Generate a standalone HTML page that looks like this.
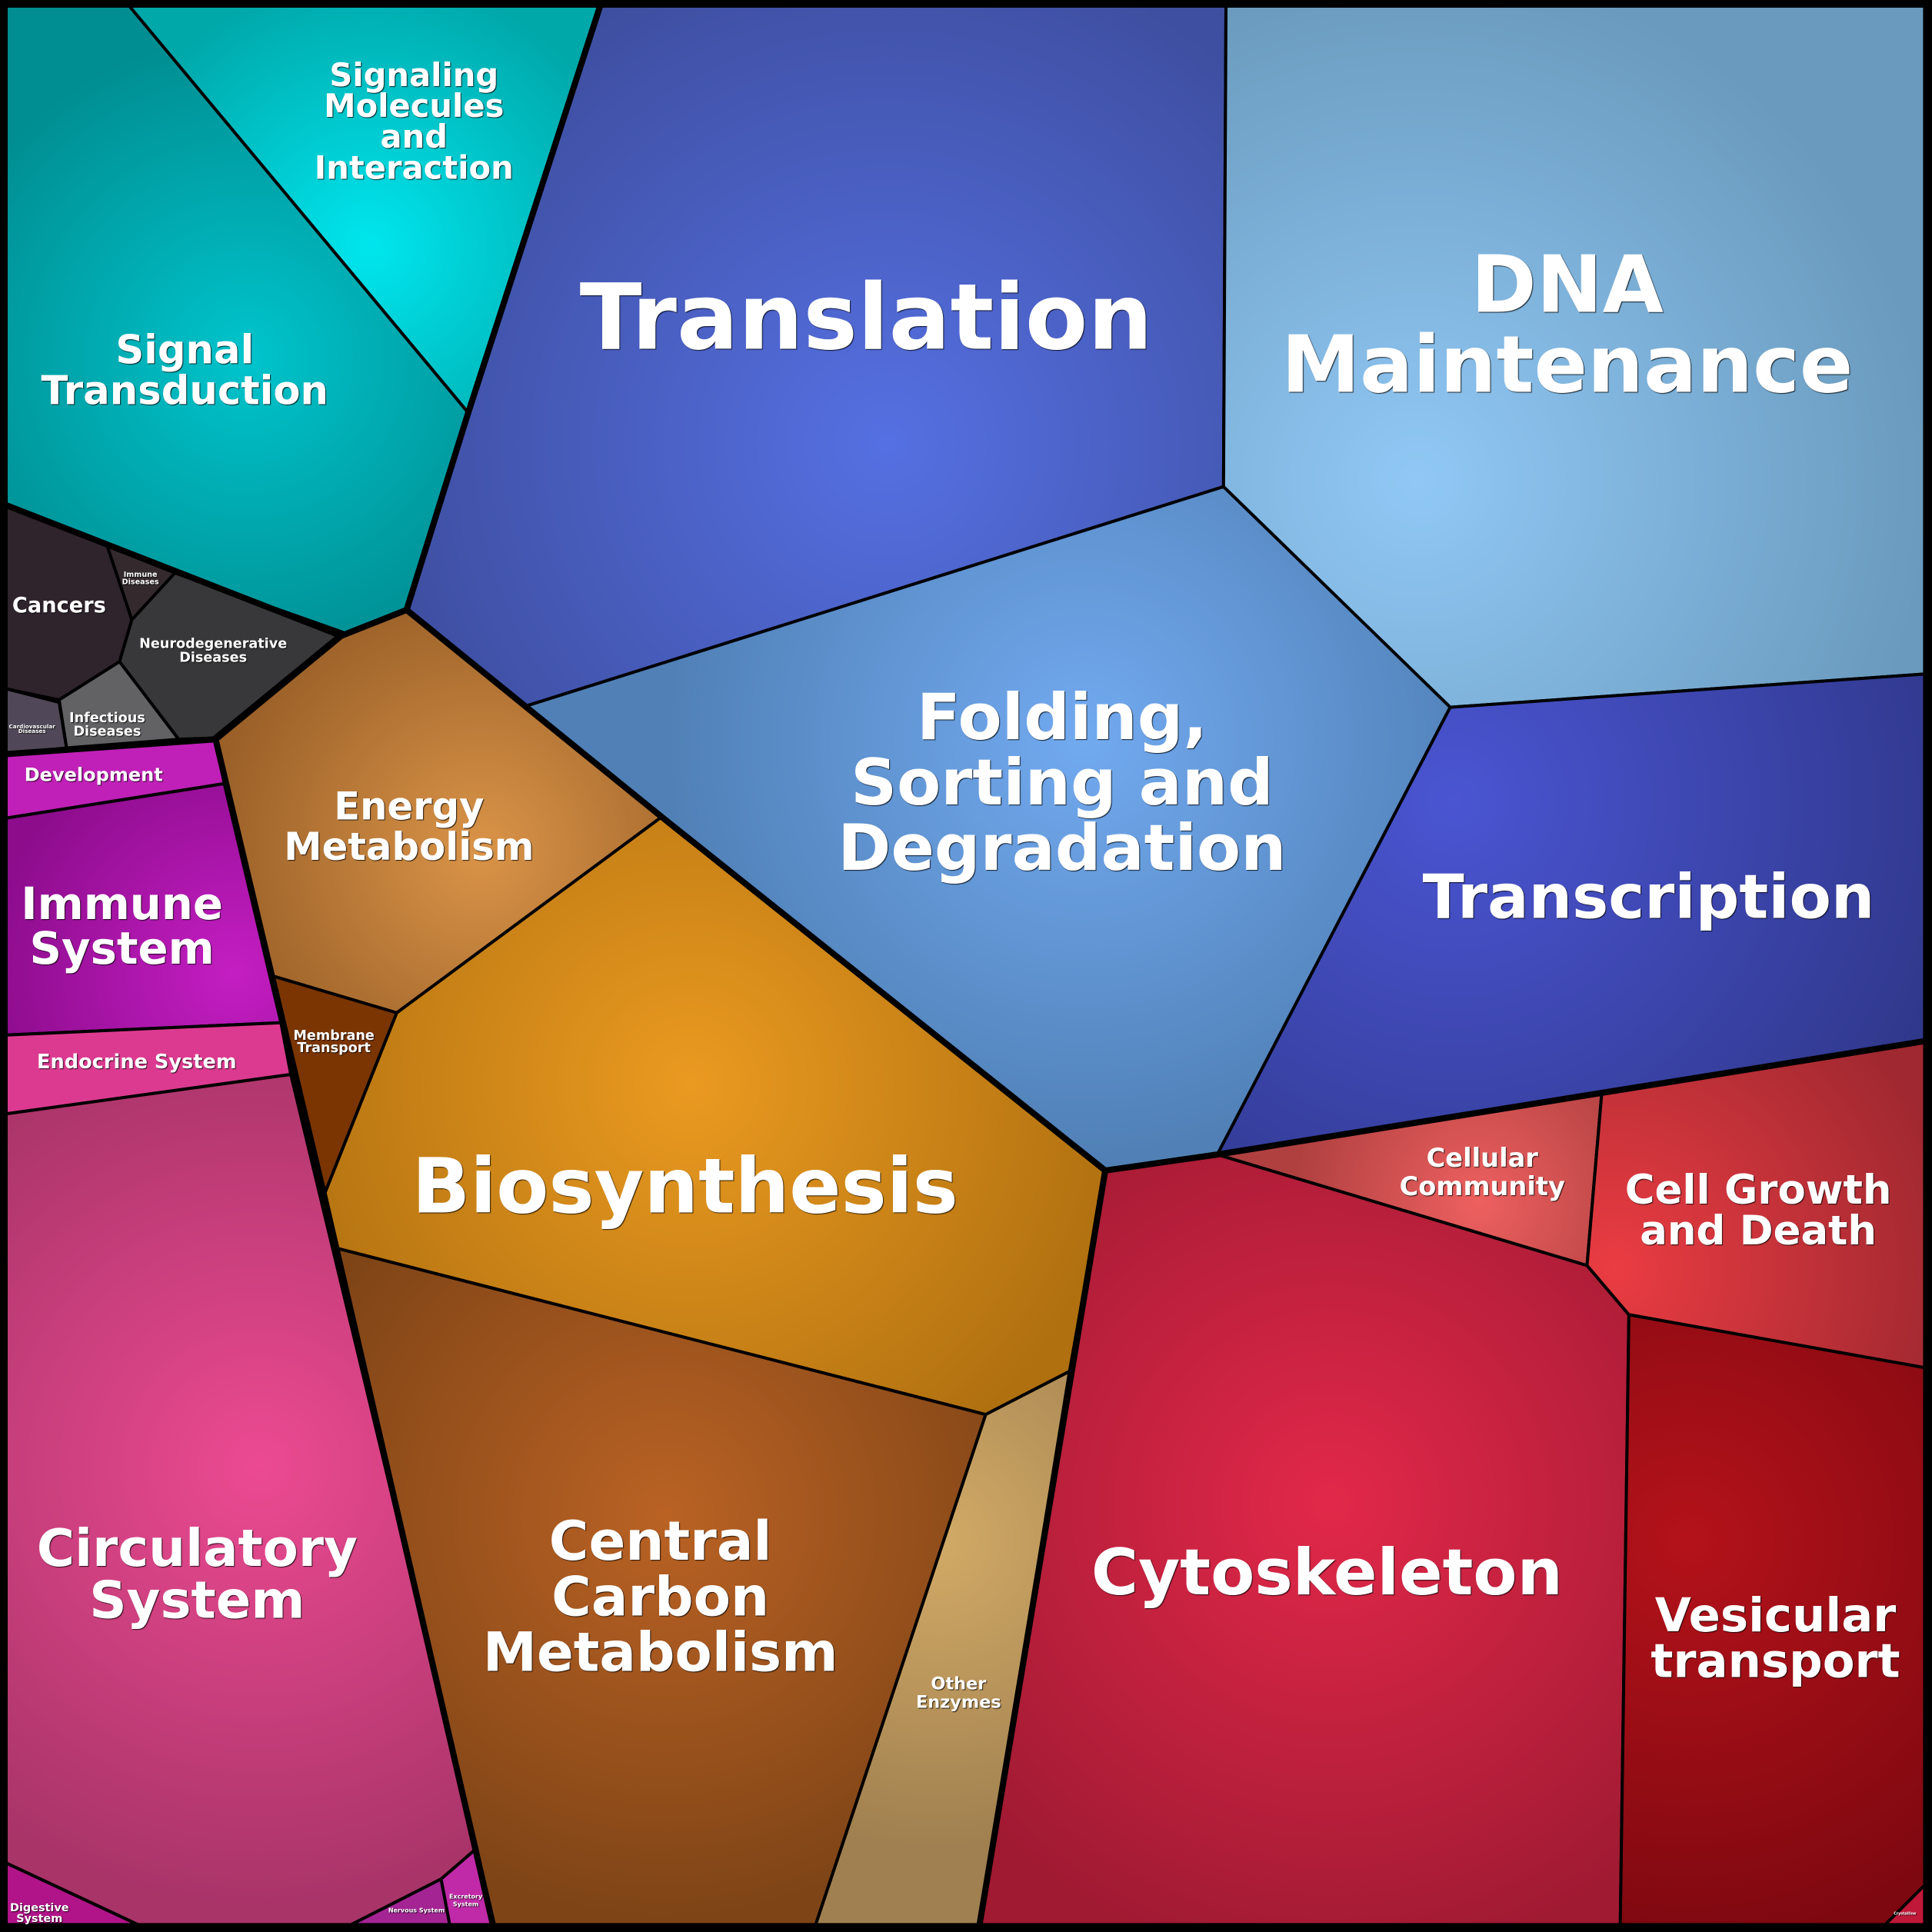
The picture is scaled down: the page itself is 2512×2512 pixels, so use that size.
<!DOCTYPE html>
<html><head><meta charset="utf-8"><style>
html,body{margin:0;padding:0;background:#000}
svg{display:block}
text{font-family:"DejaVu Sans","Liberation Sans",sans-serif;font-weight:bold;fill:#fff;text-anchor:middle;text-shadow:1px 1px 1px rgba(0,0,0,.8)}
</style></head><body>
<svg width="2512" height="2512" viewBox="0 0 1568 1568" xmlns="http://www.w3.org/2000/svg">
<defs>
<radialGradient id="gSM" gradientUnits="userSpaceOnUse" cx="300" cy="200" r="220"><stop offset="0" stop-color="#00e6ee"/><stop offset="1" stop-color="#00a8aa"/></radialGradient>
<radialGradient id="gST" gradientUnits="userSpaceOnUse" cx="200" cy="290" r="260"><stop offset="0" stop-color="#00c4cc"/><stop offset="1" stop-color="#008e92"/></radialGradient>
<radialGradient id="gTR" gradientUnits="userSpaceOnUse" cx="720" cy="360" r="420"><stop offset="0" stop-color="#5570e2"/><stop offset="1" stop-color="#3e4ea0"/></radialGradient>
<radialGradient id="gDNA" gradientUnits="userSpaceOnUse" cx="1150" cy="390" r="420"><stop offset="0" stop-color="#90c8f5"/><stop offset="1" stop-color="#6a9abd"/></radialGradient>
<radialGradient id="gFO" gradientUnits="userSpaceOnUse" cx="880" cy="600" r="340"><stop offset="0" stop-color="#72aaf0"/><stop offset="1" stop-color="#5080b6"/></radialGradient>
<radialGradient id="gTC" gradientUnits="userSpaceOnUse" cx="1180" cy="650" r="420"><stop offset="0" stop-color="#4a55d2"/><stop offset="1" stop-color="#30388c"/></radialGradient>
<radialGradient id="gEN" gradientUnits="userSpaceOnUse" cx="390" cy="690" r="220"><stop offset="0" stop-color="#da9448"/><stop offset="1" stop-color="#9a6028"/></radialGradient>
<radialGradient id="gBI" gradientUnits="userSpaceOnUse" cx="560" cy="880" r="360"><stop offset="0" stop-color="#ea9a20"/><stop offset="1" stop-color="#b07010"/></radialGradient>
<radialGradient id="gCC" gradientUnits="userSpaceOnUse" cx="540" cy="1230" r="330"><stop offset="0" stop-color="#ba6224"/><stop offset="1" stop-color="#7e4416"/></radialGradient>
<radialGradient id="gOE" gradientUnits="userSpaceOnUse" cx="760" cy="1250" r="250"><stop offset="0" stop-color="#d2aa66"/><stop offset="1" stop-color="#a08050"/></radialGradient>
<radialGradient id="gCY" gradientUnits="userSpaceOnUse" cx="1080" cy="1220" r="380"><stop offset="0" stop-color="#e2284a"/><stop offset="1" stop-color="#a01a32"/></radialGradient>
<radialGradient id="gCO" gradientUnits="userSpaceOnUse" cx="1200" cy="975" r="150"><stop offset="0" stop-color="#ee6060"/><stop offset="1" stop-color="#b04040"/></radialGradient>
<radialGradient id="gCG" gradientUnits="userSpaceOnUse" cx="1310" cy="1030" r="280"><stop offset="0" stop-color="#ea3c42"/><stop offset="1" stop-color="#a02830"/></radialGradient>
<radialGradient id="gVE" gradientUnits="userSpaceOnUse" cx="1370" cy="1250" r="330"><stop offset="0" stop-color="#b4121a"/><stop offset="1" stop-color="#7e0810"/></radialGradient>
<radialGradient id="gIM" gradientUnits="userSpaceOnUse" cx="190" cy="790" r="200"><stop offset="0" stop-color="#c41ec2"/><stop offset="1" stop-color="#8c0c8c"/></radialGradient>
<radialGradient id="gCI" gradientUnits="userSpaceOnUse" cx="210" cy="1190" r="360"><stop offset="0" stop-color="#ec4a92"/><stop offset="1" stop-color="#a83468"/></radialGradient>
</defs>
<rect width="1568" height="1568" fill="#000"/>
<g stroke="#000" stroke-width="2.5" stroke-linejoin="round">
<polygon fill="url(#gSM)" points="105,5 487,5 380,335"/>
<polygon fill="url(#gST)" points="5,5 105,5 380,335 330,495 277,516 5,410"/>
<polygon fill="url(#gTR)" points="487,5 995,5 993,395 427,573 330,495 380,335"/>
<polygon fill="url(#gDNA)" points="995,5 1562,5 1562,547 1177,574 993,395"/>
<polygon fill="url(#gFO)" points="427,573 993,395 1177,574 988,937 897,950 537,663"/>
<polygon fill="url(#gTC)" points="1177,574 1562,547 1562,845 988,937"/>
<polygon fill="url(#gEN)" points="330,495 537,663 322,822 221,792 175,600 277,516"/>
<polygon fill="#7a3502" points="221,792 322,822 263,970"/>
<polygon fill="url(#gBI)" points="537,663 897,950 868,1113 800,1148 273,1013 263,970 322,822"/>
<polygon fill="url(#gCC)" points="273,1013 800,1148 662,1562 400,1562"/>
<polygon fill="url(#gOE)" points="800,1148 868,1113 795,1562 662,1562"/>
<polygon fill="url(#gCY)" points="897,950 988,937 1288,1027 1322,1067 1315,1562 795,1562"/>
<polygon fill="url(#gCO)" points="988,937 1300,887 1288,1027"/>
<polygon fill="url(#gCG)" points="1300,887 1562,845 1562,1110 1322,1067 1288,1027"/>
<polygon fill="url(#gVE)" points="1322,1067 1562,1110 1562,1530 1530,1562 1315,1562"/>
<polygon fill="#c01838" points="1530,1562 1562,1530 1562,1562"/>
<polygon fill="#30242c" points="5,409 87,443 107,503 97,537 48,568 5,559"/>
<polygon fill="#342a2e" points="87,443 142,465 107,503"/>
<polygon fill="#38383a" points="142,465 278,513 173,599 145,600 97,537 107,503"/>
<polygon fill="#626264" points="48,568 97,537 145,600 54,607"/>
<polygon fill="#504858" points="5,559 48,570 54,607 5,612"/>
<polygon fill="#c020b8" points="5,612 175,600 182,636 5,664"/>
<polygon fill="url(#gIM)" points="5,664 182,636 228,830 5,840"/>
<polygon fill="#dc3a90" points="5,840 228,830 236,872 5,904"/>
<polygon fill="url(#gCI)" points="5,904 236,872 387,1500 358,1525 285,1562 112,1562 5,1512"/>
<polygon fill="#b01488" points="5,1512 112,1562 5,1562"/>
<polygon fill="#a42494" points="285,1562 358,1525 365,1562"/>
<polygon fill="#c02aa8" points="358,1525 387,1500 400,1562 365,1562"/>
</g>
<g stroke="#000" stroke-width="5" fill="none" stroke-linejoin="round">
<polyline points="5,410 277,516 330,495 380,335 487,5"/>
<polyline points="330,495 537,663 897,950 988,937 1562,845"/>
<polyline points="277,516 175,600 5,612"/>
<polyline points="175,600 263,970 400,1562"/>
<polyline points="897,950 795,1562"/>
<rect x="3" y="3" width="1562" height="1562"/>
</g>
<text x="336" y="70" font-size="26">Signaling</text>
<text x="336" y="95" font-size="26">Molecules</text>
<text x="336" y="120" font-size="26">and</text>
<text x="336" y="145" font-size="26">Interaction</text>
<text x="150" y="295" font-size="32">Signal</text>
<text x="150" y="328" font-size="32">Transduction</text>
<text x="703" y="283" font-size="74">Translation</text>
<text x="1272" y="253" font-size="64">DNA</text>
<text x="1272" y="318" font-size="64">Maintenance</text>
<text x="862" y="600" font-size="52">Folding,</text>
<text x="862" y="653" font-size="52">Sorting and</text>
<text x="862" y="706" font-size="52">Degradation</text>
<text x="1338" y="745" font-size="49.5">Transcription</text>
<text x="332" y="665" font-size="31">Energy</text>
<text x="332" y="698" font-size="31">Metabolism</text>
<text x="271" y="844" font-size="11" font-weight="normal">Membrane</text>
<text x="271" y="854" font-size="11" font-weight="normal">Transport</text>
<text x="556" y="984" font-size="62">Biosynthesis</text>
<text x="536" y="1266" font-size="44">Central</text>
<text x="536" y="1311" font-size="44">Carbon</text>
<text x="536" y="1356" font-size="44">Metabolism</text>
<text x="778" y="1371" font-size="14">Other</text>
<text x="778" y="1386" font-size="14">Enzymes</text>
<text x="1077" y="1294" font-size="52">Cytoskeleton</text>
<text x="1203" y="947" font-size="21">Cellular</text>
<text x="1203" y="970" font-size="21">Community</text>
<text x="1427" y="977" font-size="33">Cell Growth</text>
<text x="1427" y="1010" font-size="33">and Death</text>
<text x="1441" y="1324" font-size="38">Vesicular</text>
<text x="1441" y="1361" font-size="38">transport</text>
<text x="48" y="497" font-size="17">Cancers</text>
<text x="114" y="468" font-size="6">Immune</text>
<text x="114" y="474" font-size="6">Diseases</text>
<text x="173" y="526" font-size="11">Neurodegenerative</text>
<text x="173" y="537" font-size="11">Diseases</text>
<text x="87" y="586" font-size="11" font-weight="normal">Infectious</text>
<text x="87" y="597" font-size="11" font-weight="normal">Diseases</text>
<text x="26" y="591" font-size="4.5">Cardiovascular</text>
<text x="26" y="595" font-size="4.5">Diseases</text>
<text x="76" y="634" font-size="15">Development</text>
<text x="99" y="746" font-size="36">Immune</text>
<text x="99" y="782" font-size="36">System</text>
<text x="111" y="867" font-size="16">Endocrine System</text>
<text x="160" y="1271" font-size="42">Circulatory</text>
<text x="160" y="1313" font-size="42">System</text>
<text x="32" y="1551" font-size="9" font-weight="normal">Digestive</text>
<text x="32" y="1560" font-size="9" font-weight="normal">System</text>
<text x="338" y="1552" font-size="5" font-weight="normal">Nervous System</text>
<text x="378" y="1541" font-size="5" font-weight="normal">Excretory</text>
<text x="378" y="1547" font-size="5" font-weight="normal">System</text>
<text x="1546" y="1554" font-size="3" font-weight="normal">Crystalline</text>
</svg>
</body></html>
